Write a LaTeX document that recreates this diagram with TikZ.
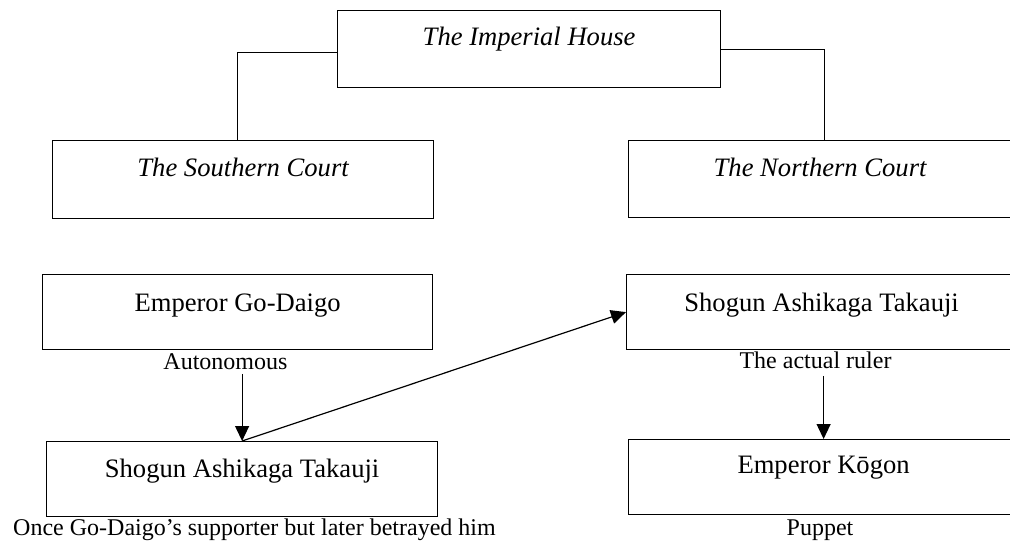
\documentclass[tikz,border=0pt]{standalone}
\usepackage{fontspec}
\setmainfont{Liberation Serif}
\usetikzlibrary{arrows.meta}
\begin{document}
\begin{tikzpicture}[x=1pt,y=-1pt,
  line width=1.2pt,
  box/.style={draw, rectangle, anchor=north west, inner xsep=0pt, inner ysep=0pt,
    font=\fontsize{26.6}{30}\selectfont},
  note/.style={anchor=base, inner sep=0pt, font=\fontsize{24}{28}\selectfont},
  arr/.style={-{Triangle[length=15pt,width=14pt]}}]
\useasboundingbox (0,0) rectangle (1010,544);

% top level
\node[box, minimum width=383pt, text height=35pt, text depth=42pt] (imp) at (337,10) {\itshape The Imperial House};

% the two courts
\node[box, minimum width=381pt, text height=36pt, text depth=42pt] (south) at (52,140) {\itshape The Southern Court};
\node[box, minimum width=383pt, text height=36pt, text depth=41pt] (north) at (628,140) {\itshape The Northern Court};

% southern court
\node[box, minimum width=390pt, text height=37pt, text depth=38pt] (godaigo) at (42,274) {Emperor Go-Daigo};
\node[box, minimum width=391pt, text height=36pt, text depth=39pt] (shoL) at (46,441) {Shogun Ashikaga Takauji};

% northern court
\node[box, minimum width=390pt, text height=37pt, text depth=38pt] (shoR) at (626,274) {Shogun Ashikaga Takauji};
\node[box, minimum width=390pt, text height=34pt, text depth=41pt] (kogon) at (628,439) {Emperor Kōgon};

% captions
\node[note] (auto) at (225.5,369) {Autonomous};
\node[note] (ruler) at (815.5,368) {The actual ruler};
\node[note] (puppet) at (820,535) {Puppet};
\node[note] (once) at (254.5,535) {Once Go-Daigo’s supporter but later betrayed him};

% branches from the Imperial House
\draw ([yshift=-3.5pt]imp.west) -| ([xshift=-5.5pt]south.north);
\draw ([yshift=-0.5pt]imp.east) -| ([xshift=4.5pt]north.north);

% arrows
\coordinate (autoEnd) at ([yshift=-4pt]auto.south);
\draw[arr] (shoL.north |- autoEnd) -- (shoL.north);
\draw[arr] (shoL.north) -- (shoR.west);
\coordinate (rulerEnd) at ([yshift=-7pt]ruler.south);
\draw[arr] (kogon.north |- rulerEnd) -- (kogon.north);
\end{tikzpicture}
\end{document}
